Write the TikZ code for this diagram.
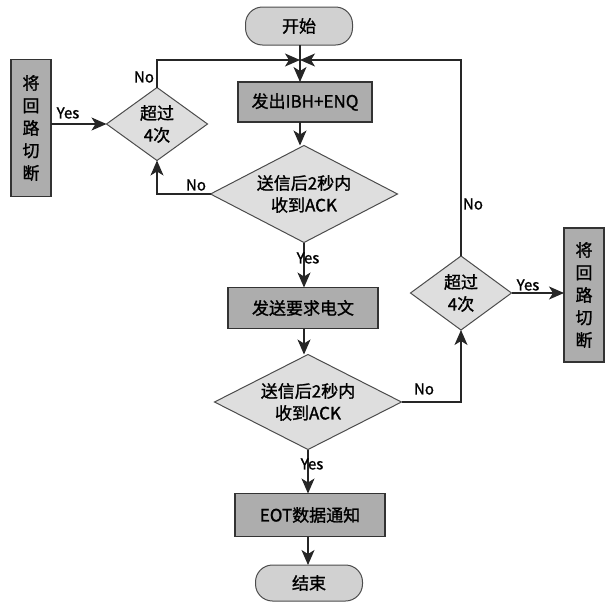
\documentclass[tikz,border=0pt]{standalone}
\usepackage{fontspec}
\setmainfont{Noto Sans CJK SC}[FakeBold=1.3]
\usetikzlibrary{shapes.geometric,arrows.meta}
\begin{document}
\begin{tikzpicture}[x=1pt,y=-1pt,
  every node/.style={inner sep=0pt, outer sep=0pt},
  procbox/.style={draw=black!80, line width=1.1pt, fill=black!32, minimum width=#1},
  termbox/.style={draw=black!70, line width=1pt, fill=black!18, rounded corners=17pt, minimum width=107pt},
  decision/.style={diamond, draw=black!70, line width=1pt, fill=black!13},
  cutbox/.style={draw=black!80, line width=1.1pt, fill=black!32, minimum width=40pt, align=center,
     font=\fontsize{17}{22.5}\selectfont},
  txt/.style={font=\fontsize{17}{22}\selectfont, align=center},
  lbl/.style={font=\fontsize{15}{18}\selectfont},
  flow/.style={line width=1.2pt, draw=black!85, -{Stealth[length=15pt,width=13pt,inset=4pt]}},
  seg/.style={line width=1.2pt, draw=black!85}]
\useasboundingbox (0,0) rectangle (614,603);

% terminators
\node[termbox, minimum height=38pt, txt] (start) at (299,26) {开始};
\node[termbox, minimum height=36pt, txt] (stop) at (309,583) {结束};

% process boxes
\node[procbox=134pt, minimum height=40pt, txt] (b1) at (305,102) {发出IBH+ENQ};
\node[procbox=150pt, minimum height=41pt, txt] (b2) at (303,308) {发送要求电文};
\node[procbox=150pt, minimum height=43pt, txt] (b3) at (310,515) {EOT数据通知};

% decisions
\node[decision, minimum width=187pt, minimum height=97pt] (d1) at (304,194) {};
\node[txt] (d1t) at (d1.center) {送信后2秒内\\收到ACK};
\node[decision, minimum width=187pt, minimum height=95pt] (d2) at (308,402) {};
\node[txt] (d2t) at (d2.center) {送信后2秒内\\收到ACK};
\node[decision, minimum width=101pt, minimum height=73pt] (ld) at (157,124) {};
\node[txt] (ldt) at (ld.center) {超过\\4次};
\node[decision, minimum width=101pt, minimum height=74pt] (rd) at (461,293) {};
\node[txt] (rdt) at (rd.center) {超过\\4次};

% cut boxes
\node[cutbox, minimum height=137pt] (lb) at (31,128) {将\\回\\路\\切\\断};
\node[cutbox, minimum height=134pt] (rb) at (584,295) {将\\回\\路\\切\\断};

% junction
\coordinate (j) at (300,60);

% main flow
\draw[seg] (start.south -| j) -- (j);
\draw[flow] (j) -- (j |- b1.north);
\draw[flow] (b1.south -| j) -- (j |- d1.north);
\draw[flow] (d1.south) -- (d1.south |- b2.north);
\draw[flow] (b2.south -| d1.south) -- (d1.south |- d2.north);
\draw[flow] (d2.south) -- (d2.south |- b3.north);
\draw[flow] (b3.south -| d2.south) -- (d2.south |- stop.north);

% left loop
\draw[flow] (d1.west) -| (ld.south);
\draw[flow] (ld.north) |- (j);
\draw[flow] (lb.east |- ld.west) -- (ld.west);

% right loop
\draw[flow] (d2.east) -| (rd.south);
\draw[flow] (rd.north) |- (j);
\draw[flow] (rd.east) -- (rb.west |- rd.east);

% labels
\node[lbl] (l1) at (68,113) {Yes};
\node[lbl] (l2) at (144,77) {No};
\node[lbl] (l3) at (196,185) {No};
\node[lbl] (l4) at (308,258) {Yes};
\node[lbl] (l5) at (473,204) {No};
\node[lbl] (l6) at (528,285) {Yes};
\node[lbl] (l7) at (424,389) {No};
\node[lbl] (l8) at (312,464) {Yes};
\end{tikzpicture}
\end{document}
